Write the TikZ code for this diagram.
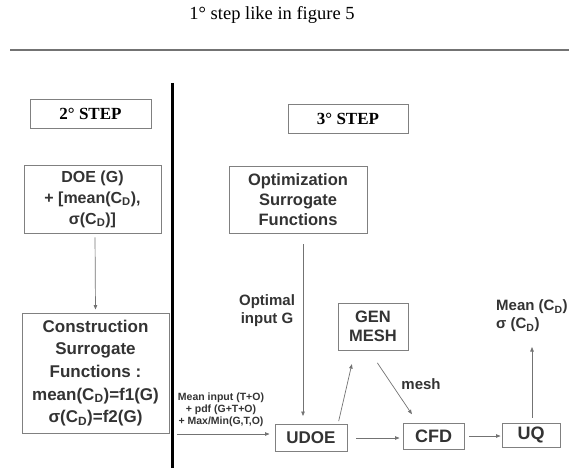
\documentclass[tikz,border=0pt]{standalone}
\usepackage{fontspec}
\setmainfont{Liberation Serif}
\setsansfont{Liberation Sans}
\usetikzlibrary{arrows.meta,positioning,calc}
\newcommand{\CD}{C\textsubscript{D}}
\newcommand{\fs}[2]{\fontsize{#1}{#2}\selectfont}

\begin{document}
\begin{tikzpicture}[
  x=1pt, y=-1pt,
  font=\sffamily\bfseries,
  box/.style={draw=black!50, line width=0.9pt, align=center, text=black!80, inner sep=0pt},
  stepbox/.style={draw=black!50, line width=0.8pt, font=\rmfamily\bfseries\fs{17}{20}, inner sep=0pt, minimum width=121pt, minimum height=29pt},
  arrow/.style={-{Triangle[length=4.5pt,width=3.5pt]}, draw=black!55, line width=0.7pt},
  note/.style={align=center, text=black!80}
]
\useasboundingbox (0,0) rectangle (569,468);

\node[font=\rmfamily\fs{18.5}{20}] (title) at (272,15) {1° step like in figure 5};
\draw[black!55, line width=1.4pt] (10,50) -- (569,50);
\draw[line width=3pt] (172,83) -- (172,468);

\node[stepbox] (step2) at (90.5,113.5) {2° STEP};
\node[stepbox, minimum width=120pt] (step3) at (348,119) {3° STEP};

% second step
\node[box, minimum width=137pt, minimum height=68pt, font=\sffamily\bfseries\fs{16}{21}] (doe) at (92.5,199)
  {DOE (G)\\+ [mean(\CD),\\σ(\CD)]};
\node[box, minimum width=147pt, minimum height=120pt, font=\sffamily\bfseries\fs{17}{22.7}] (cons) at (95.5,373)
  {Construction\\Surrogate\\Functions :\\mean(\CD)=f1(G)\\σ(\CD)=f2(G)};
\draw[arrow, shorten <=4pt, shorten >=3pt] ([xshift=2.5pt]doe.south) -- (cons.north);

% third step
\node[box, minimum width=138pt, minimum height=67pt, font=\sffamily\bfseries\fs{16.5}{20}] (opt) at (298,199.5)
  {Optimization\\Surrogate\\Functions};
\node[box, minimum width=70pt, minimum height=47pt, font=\sffamily\bfseries\fs{16.5}{19.5}] (gen) at (373,326.5)
  {GEN\\MESH};
\node[box, minimum width=72pt, minimum height=27pt, font=\sffamily\bfseries\fs{17}{20}] (udoe) at (311,438) {UDOE};
\node[box, minimum width=61pt, minimum height=26pt, font=\sffamily\bfseries\fs{18}{20}] (cfd) at (433.5,436) {CFD};
\node[box, minimum width=58pt, minimum height=24pt, font=\sffamily\bfseries\fs{18}{20}] (uq) at (531,435) {UQ};

\node[note, font=\sffamily\bfseries\fs{15}{18}] (optlbl) at (267,311) {Optimal\\input G};
\node[note, font=\sffamily\bfseries\fs{15}{18}] (meshlbl) at (421,384) {mesh};
\node[note, align=left, anchor=west, inner sep=1pt, font=\sffamily\bfseries\fs{15}{18}] (cdlbl) at (495,316) {Mean (\CD)\\σ (\CD)};
\node[note, font=\sffamily\bfseries\fs{10.5}{12}] (inlbl) at (221,410)
  {Mean input (T+O)\\+ pdf (G+T+O)\\+ Max/Min(G,T,O)};

\coordinate (in) at (177,434);
\coordinate (cdout) at (532,347);

\draw[arrow, shorten >=5pt] (in) -- (in -| udoe.west);
\draw[arrow, shorten <=11pt, shorten >=8pt] ([xshift=5pt]opt.south) -- ([xshift=-8pt]udoe.north);
\draw[arrow, shorten <=3pt, shorten >=14pt] ([xshift=27pt]udoe.north) -- ([xshift=-18pt]gen.south);
\draw[arrow, shorten <=15pt, shorten >=10pt] ([xshift=-4pt]gen.south) -- ([xshift=-16pt]cfd.north);
\draw[arrow, shorten <=9pt, shorten >=3pt] (udoe.east) -- (udoe.east -| cfd.west);
\draw[arrow, shorten <=5pt, shorten >=1pt] (cfd.east) -- (cfd.east -| uq.west);
\draw[arrow, shorten <=5pt] ([xshift=1pt]uq.north) -- (cdout);

\end{tikzpicture}
\end{document}
